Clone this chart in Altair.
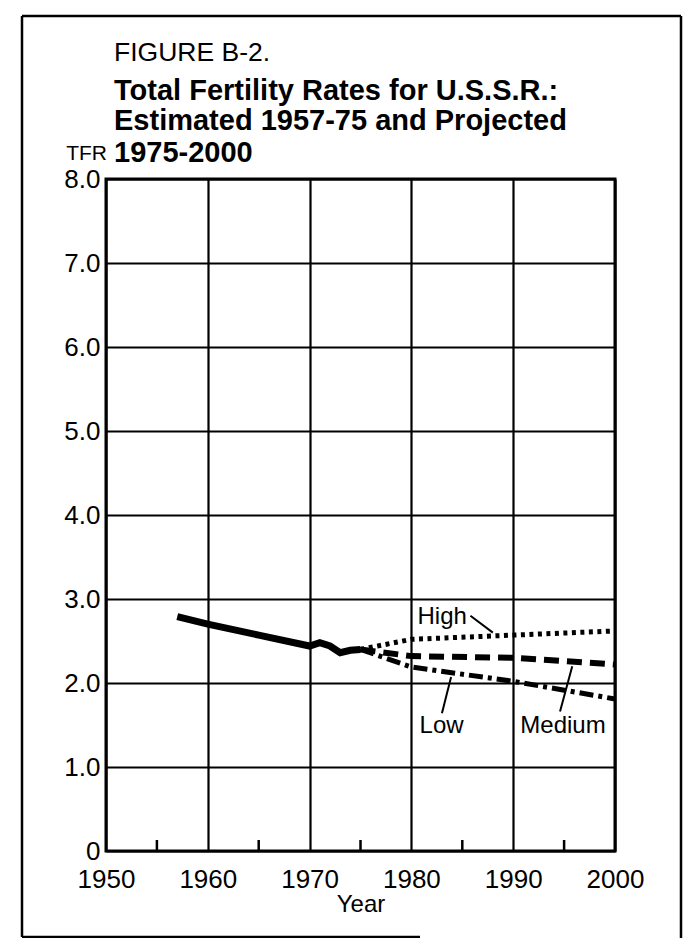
import altair as alt
import pandas as pd

# ---------------- data ----------------
est_years = [1957, 1960, 1965, 1970, 1971, 1972, 1973, 1974, 1975]
est_tfr = [2.79, 2.70, 2.57, 2.44, 2.48, 2.44, 2.36, 2.39, 2.40]

proj_years = [1975, 1980, 1990, 2000]
high_tfr = [2.40, 2.52, 2.57, 2.62]
medium_tfr = [2.40, 2.32, 2.30, 2.22]
low_tfr = [2.40, 2.19, 2.02, 1.81]

x_ticks = [1950, 1960, 1970, 1980, 1990, 2000]
minor_ticks = [1955, 1965, 1975, 1985, 1995]
y_ticks = [0, 1, 2, 3, 4, 5, 6, 7, 8]

label_text = ["High", "Low", "Medium"]
label_year = [1980.6, 1980.8, 1990.7]
label_tfr = [2.70, 1.40, 1.40]

leader_year = [1985.8, 1983.0, 1994.6]
leader_tfr = [2.80, 1.64, 1.66]
leader_year2 = [1988.0, 1983.9, 1995.8]
leader_tfr2 = [2.60, 2.07, 2.20]

title_lines = ["FIGURE B-2.",
               "Total Fertility Rates for U.S.S.R.:",
               "Estimated 1957-75 and Projected",
               "1975-2000"]
y_title = "TFR"
x_title = "Year"

# ---------------- chart ----------------
W, H = 509, 672
FONT = "Liberation Sans"
xs = alt.Scale(domain=[1950, 2000], nice=False, zero=False)
ys = alt.Scale(domain=[0, 8], nice=False)

est_df = pd.DataFrame({"year": est_years, "tfr": est_tfr})
high_df = pd.DataFrame({"year": proj_years, "tfr": high_tfr})
med_df = pd.DataFrame({"year": proj_years, "tfr": medium_tfr})
low_df = pd.DataFrame({"year": proj_years, "tfr": low_tfr})
minor_df = pd.DataFrame({"year": minor_ticks})
lab_df = pd.DataFrame({"text": label_text, "year": label_year, "tfr": label_tfr})
lead_df = pd.DataFrame({"year": leader_year, "tfr": leader_tfr,
                        "year2": leader_year2, "tfr2": leader_tfr2})
one = pd.DataFrame({"k": [0]})

x_axis = alt.Axis(values=x_ticks, format="d", grid=True, gridColor="black",
                  gridWidth=2.2, gridOpacity=1, ticks=False, domain=False,
                  labelFontSize=26, labelPadding=15, labelColor="black",
                  labelFont=FONT, labelFlush=False,
                  title=x_title, titleFontSize=24, titleFontWeight="normal",
                  titleColor="black", titleFont=FONT, titlePadding=0)
y_axis = alt.Axis(values=y_ticks,
                  labelExpr="datum.value == 0 ? '0' : format(datum.value, '.1f')",
                  grid=True, gridColor="black", gridWidth=2.2, gridOpacity=1,
                  ticks=False, domain=False, labelFontSize=26, labelPadding=6,
                  labelColor="black", labelFont=FONT, title="")

base_line = alt.Chart(est_df).mark_line(color="black", strokeWidth=7).encode(
    x=alt.X("year:Q", scale=xs, axis=x_axis),
    y=alt.Y("tfr:Q", scale=ys, axis=y_axis),
)


def proj(df, dash, width):
    return alt.Chart(df).mark_line(color="black", strokeWidth=width,
                                   strokeDash=dash).encode(
        x=alt.X("year:Q", scale=xs),
        y=alt.Y("tfr:Q", scale=ys),
    )


high = proj(high_df, [4, 4.5], 5)
medium = proj(med_df, [15, 8], 6)
low = proj(low_df, [14, 5, 4, 5], 5)

minor = alt.Chart(minor_df).mark_rule(color="black", strokeWidth=2.5).encode(
    x=alt.X("year:Q", scale=xs),
    y=alt.value(H), y2=alt.value(H - 11),
)

leaders = alt.Chart(lead_df).mark_rule(color="black", strokeWidth=2).encode(
    x=alt.X("year:Q", scale=xs),
    y=alt.Y("tfr:Q", scale=ys),
    x2="year2:Q", y2="tfr2:Q",
)

labels = alt.Chart(lab_df).mark_text(align="left", baseline="alphabetic",
                                     fontSize=24, font=FONT, color="black").encode(
    x=alt.X("year:Q", scale=xs),
    y=alt.Y("tfr:Q", scale=ys),
    text="text:N",
)


def txt(s, x, y, size, weight="normal", align="left"):
    return alt.Chart(one).mark_text(text=s, align=align, baseline="alphabetic",
                                    fontSize=size, fontWeight=weight, font=FONT,
                                    color="black").encode(
        x=alt.value(x), y=alt.value(y))


titles = [
    txt(title_lines[0], 8, -118, 26.5),
    txt(title_lines[1], 8, -79, 29, "bold"),
    txt(title_lines[2], 8, -49, 29, "bold"),
    txt(title_lines[3], 8, -17, 29, "bold"),
    txt(y_title, 1, -19, 21, "normal", "right"),
]

FL, FT, FR, FB, FBX = -84, -163, 575, 758, 314


def rule(x, x2, y, y2):
    return alt.Chart(one).mark_rule(color="black", strokeWidth=2.5).encode(
        x=alt.value(x), x2=alt.value(x2), y=alt.value(y), y2=alt.value(y2))


frame = [
    rule(FL, FR, FT, FT),
    rule(FL, FL, FT, FB),
    rule(FR, FR, FT, 759),
    rule(FL, FBX, FB, FB),
]

chart = alt.layer(base_line, high, medium, low, minor, leaders, labels,
                  *titles, *frame).properties(
    width=W, height=H,
    autosize=alt.AutoSizeParams(type="none"),
    padding={"left": 98, "top": 171, "right": 71, "bottom": 87},
    background="white",
).configure(font=FONT).configure_view(stroke="black", strokeWidth=3)

chart.save("out.html", embed_options={"renderer": "svg", "actions": False})
